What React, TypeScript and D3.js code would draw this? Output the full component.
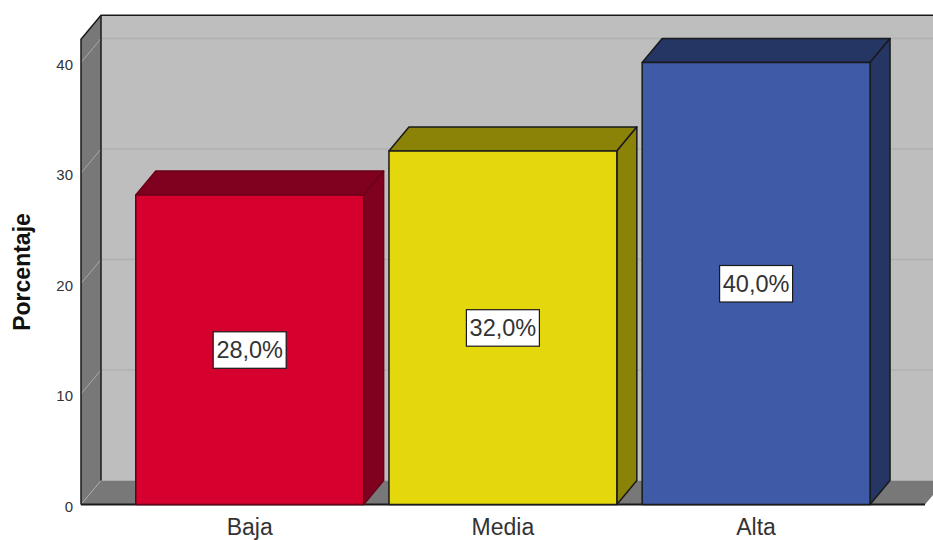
import { useEffect, useRef } from 'react';
import * as d3 from 'd3';

const categories = ['Baja', 'Media', 'Alta'];
const values = [28, 32, 40];
const valueLabels = ['28,0%', '32,0%', '40,0%'];
const yTicks = [0, 10, 20, 30, 40];
const frontColors = ['#d5002e', '#e4d80c', '#3f5ba8'];
const topColors = ['#80001f', '#8b8308', '#253564'];
const barEdges = ['#6a0019', '#1a1a1a', '#1a1a1a'];
const yMax = 42.1;

const width = 933;
const height = 540;
const depthX = 20;
const depthY = 24;
const font = '"Liberation Sans", Arial, sans-serif';
const edge = '#1a1a1a';

export default function App() {
  const svgRef = useRef<SVGSVGElement>(null);

  useEffect(() => {
    if (!svgRef.current) return;
    const svg = d3.select(svgRef.current);
    svg.selectAll('*').remove();

    const left = 81;
    const right = 925;
    const y = d3.scaleLinear().domain([0, 40]).range([504.5, 62.5]);
    const x = d3.scaleBand<string>()
      .domain(categories)
      .range([123.1, 882.7])
      .paddingInner(0.1)
      .paddingOuter(0.05);

    const poly = (pts: [number, number][]) => d3.line()(pts) + 'Z';
    const g = svg.append('g');

    const base = y(0);
    const top = y(yMax);

    // back wall
    g.append('rect')
      .attr('x', left + depthX).attr('y', top - depthY)
      .attr('width', width - left - depthX + 30).attr('height', base - top)
      .attr('fill', '#bebebe');

    // left wall
    g.append('path')
      .attr('d', poly([[left, top], [left + depthX, top - depthY], [left + depthX, base - depthY], [left, base]]))
      .attr('fill', '#787878');

    // floor
    g.append('path')
      .attr('d', poly([[left, base], [left + depthX, base - depthY], [right + depthX, base - depthY], [right, base]]))
      .attr('fill', '#787878');

    // grid lines on wall and side
    yTicks.forEach(t => {
      if (t > 0) {
        g.append('line')
          .attr('x1', left + depthX).attr('x2', width)
          .attr('y1', y(t) - depthY).attr('y2', y(t) - depthY)
          .attr('stroke', '#b0b0b0').attr('stroke-width', 1.5);
      }
      g.append('line')
        .attr('x1', left).attr('x2', left + depthX)
        .attr('y1', y(t)).attr('y2', y(t) - depthY)
        .attr('stroke', '#a8a8a8').attr('stroke-width', 1);
    });

    // wall edges
    g.append('path')
      .attr('d', `M${left},${base}V${top}L${left + depthX},${top - depthY}H${width}`)
      .attr('fill', 'none').attr('stroke', edge).attr('stroke-width', 1.5);
    g.append('line')
      .attr('x1', left + depthX).attr('x2', left + depthX)
      .attr('y1', top - depthY).attr('y2', base - depthY)
      .attr('stroke', edge).attr('stroke-width', 1.5);
    g.append('line')
      .attr('x1', left).attr('x2', right)
      .attr('y1', base).attr('y2', base)
      .attr('stroke', edge).attr('stroke-width', 2);

    // bars
    categories.forEach((c, i) => {
      const x0 = x(c) as number;
      const x1 = x0 + x.bandwidth();
      const yv = y(values[i]);
      const bar = g.append('g')
        .attr('stroke', barEdges[i])
        .attr('stroke-width', 1.5).attr('stroke-linejoin', 'round');
      bar.append('path')
        .attr('d', poly([[x0, yv], [x0 + depthX, yv - depthY], [x1 + depthX, yv - depthY], [x1, yv]]))
        .attr('fill', topColors[i]);
      bar.append('path')
        .attr('d', poly([[x1, yv], [x1 + depthX, yv - depthY], [x1 + depthX, base - depthY], [x1, base]]))
        .attr('fill', topColors[i]);
      bar.append('rect')
        .attr('x', x0).attr('y', yv)
        .attr('width', x1 - x0).attr('height', base - yv)
        .attr('fill', frontColors[i]);

      const cx = x0 + x.bandwidth() / 2;
      const cy = y(values[i] / 2);
      g.append('rect')
        .attr('x', cx - 36.5).attr('y', cy - 18)
        .attr('width', 73).attr('height', 36.5)
        .attr('fill', '#fff').attr('stroke', edge).attr('stroke-width', 1.2);
      g.append('text')
        .attr('x', cx).attr('y', cy + 8.5)
        .attr('text-anchor', 'middle')
        .attr('font-family', font).attr('font-size', 23.5)
        .attr('fill', '#333')
        .text(valueLabels[i]);

      g.append('text')
        .attr('x', cx).attr('y', 535)
        .attr('text-anchor', 'middle')
        .attr('font-family', font).attr('font-size', 23)
        .attr('fill', '#333')
        .text(c);
    });

    // y ticks
    yTicks.forEach(t => {
      g.append('text')
        .attr('x', 73).attr('y', y(t) + 7)
        .attr('text-anchor', 'end')
        .attr('font-family', font).attr('font-size', 15)
        .attr('fill', '#333')
        .text(t);
    });

    // y title
    g.append('text')
      .attr('transform', `translate(30,272) rotate(-90)`)
      .attr('text-anchor', 'middle')
      .attr('font-family', font).attr('font-size', 23).attr('font-weight', 700)
      .attr('fill', '#111')
      .text('Porcentaje');
  }, []);

  return (
    <svg
      ref={svgRef}
      width={width}
      height={height}
      style={{ position: 'absolute', left: 0, top: 0, background: '#fff' }}
    />
  );
}
